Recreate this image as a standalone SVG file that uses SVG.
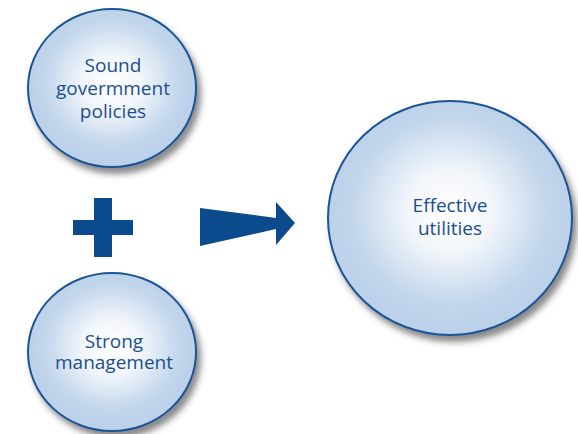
<svg xmlns="http://www.w3.org/2000/svg" width="578" height="434" viewBox="0 0 578 434">
  <defs>
    <radialGradient id="fill" cx="50%" cy="47%" r="50%">
      <stop offset="0" stop-color="#ffffff"/>
      <stop offset="0.35" stop-color="#f2f6fb"/>
      <stop offset="0.8" stop-color="#c2d6ec"/>
      <stop offset="1" stop-color="#bcd1ea"/>
    </radialGradient>
    <filter id="shadow" x="-20%" y="-20%" width="150%" height="150%">
      <feDropShadow dx="4" dy="6" stdDeviation="3" flood-color="#3a3a3a" flood-opacity="0.6"/>
    </filter>
  </defs>
  <style>
    .node ellipse { fill: url(#fill); stroke: #1b5496; stroke-width: 2; filter: url(#shadow); }
    .label { font-family: "Open Sans", "Liberation Sans", sans-serif; font-size: 19px; fill: #1b4f8f; text-anchor: middle; }
    .mark { fill: #0b4a8c; }
  </style>
  <rect width="578" height="434" fill="#ffffff"/>
  <g id="node-policies" class="node">
    <ellipse cx="112" cy="88" rx="84" ry="79"/>
    <text class="label" x="113" y="72">Sound</text>
    <text class="label" x="113" y="95">govermment</text>
    <text class="label" x="113" y="118">policies</text>
  </g>
  <g id="node-management" class="node">
    <ellipse cx="112" cy="352" rx="84" ry="79"/>
    <text class="label" x="114" y="348">Strong</text>
    <text class="label" x="114" y="369">management</text>
  </g>
  <g id="node-utilities" class="node">
    <ellipse cx="450" cy="218" rx="122" ry="117"/>
    <text class="label" x="450" y="212">Effective</text>
    <text class="label" x="450" y="235">utilities</text>
  </g>
  <g id="connectors">
    <path class="mark" d="M94 198 H112 V220 H133 V235 H112 V257 H94 V235 H73 V220 H94 Z"/>
    <polygon class="mark" points="200,208 276,218 276,202 295,223 276,245 276,229 200,246"/>
  </g>
</svg>
